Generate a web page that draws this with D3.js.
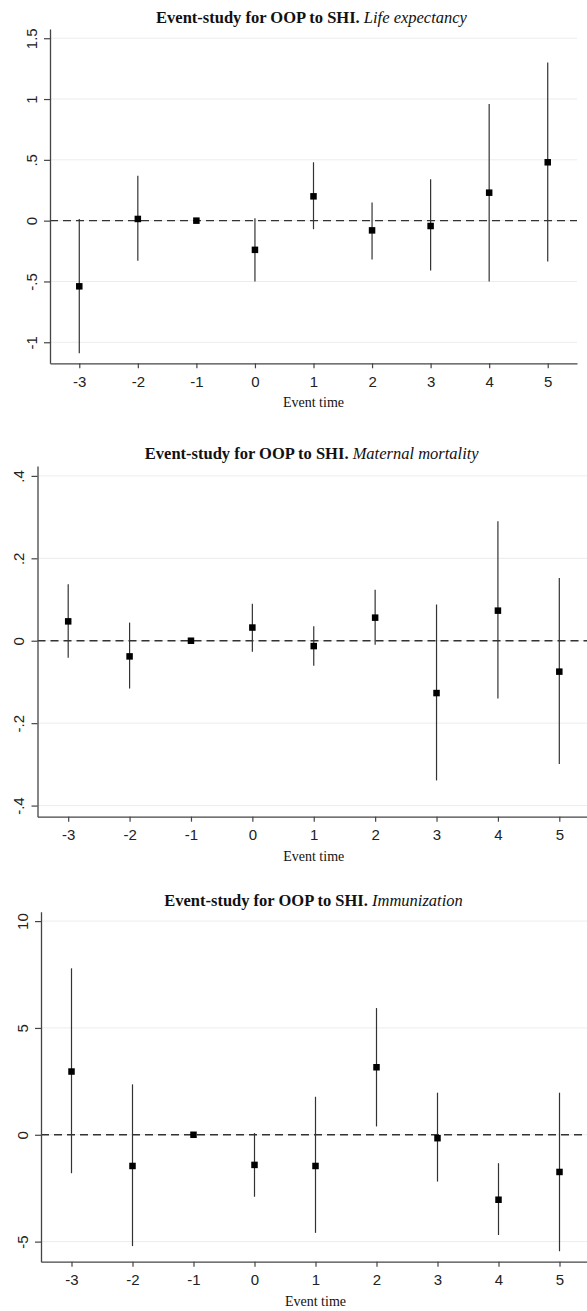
<!DOCTYPE html>
<html>
<head>
<meta charset="utf-8">
<script src="https://cdn.jsdelivr.net/npm/d3@7"></script>
<style>
  body { margin: 0; background: #fff; }
  svg { display: block; }
  .tick text { font-family: "Liberation Sans", Arial, sans-serif; font-size: 15px; fill: #222; }
  .axis path.domain { stroke: #444; stroke-width: 1.3; }
  .axis .tick line { stroke: #444; stroke-width: 1.2; }
  .title { font-family: "Liberation Serif", "Times New Roman", serif; font-size: 16.5px; fill: #111; }
  .xlabel { font-family: "Liberation Serif", "Times New Roman", serif; font-size: 14px; fill: #111; }
</style>
</head>
<body>
<div class="chart"></div>
<script>
// event times on the x axis
const eventTimes = [-3, -2, -1, 0, 1, 2, 3, 4, 5];

// Life expectancy
const lifeCoef = [-0.54, 0.014, 0, -0.24, 0.20, -0.08, -0.044, 0.23, 0.48];
const lifeLow  = [-1.09, -0.33, 0, -0.50, -0.07, -0.32, -0.41, -0.50, -0.335];
const lifeHigh = [0.014, 0.37, 0, 0.02, 0.48, 0.15, 0.34, 0.96, 1.30];
const lifeTicks = [-1, -0.5, 0, 0.5, 1, 1.5];

// Maternal mortality
const matCoef = [0.047, -0.038, 0, 0.032, -0.013, 0.056, -0.127, 0.073, -0.075];
const matLow  = [-0.041, -0.116, 0, -0.027, -0.061, -0.010, -0.339, -0.140, -0.299];
const matHigh = [0.137, 0.044, 0, 0.090, 0.035, 0.124, 0.088, 0.290, 0.152];
const matTicks = [-0.4, -0.2, 0, 0.2, 0.4];

// Immunization
const immCoef = [2.96, -1.46, 0, -1.41, -1.46, 3.16, -0.16, -3.04, -1.74];
const immLow  = [-1.80, -5.21, 0, -2.90, -4.59, 0.39, -2.19, -4.69, -5.45];
const immHigh = [7.79, 2.36, 0, 0.08, 1.78, 5.93, 1.97, -1.33, 1.97];
const immTicks = [-5, 0, 5, 10];

const titleLead = "Event-study for OOP to SHI.";
const outcomeNames = ["Life expectancy", "Maternal mortality", "Immunization"];

// Stata style numbers: .5, -.5
function stataFmt(d) {
  let s = String(+d.toFixed(2));
  return s.replace(/^0\./, ".").replace(/^-0\./, "-.");
}

let svg = d3.select(".chart").append("svg")
  .attr("width", 587)
  .attr("height", 1311);

let panels = [
  { name: outcomeNames[0], coef: lifeCoef, low: lifeLow, high: lifeHigh, ticks: lifeTicks,
    left: 50, right: 577, top: 29, bottom: 363.3, ydom: [-1.173, 1.576], titleY: 23 },
  { name: outcomeNames[1], coef: matCoef, low: matLow, high: matHigh, ticks: matTicks,
    left: 37.5, right: 590, top: 466, bottom: 816.7, ydom: [-0.427, 0.424], titleY: 458.5 },
  { name: outcomeNames[2], coef: immCoef, low: immLow, high: immHigh, ticks: immTicks,
    left: 41, right: 590, top: 911.7, bottom: 1261.7, ydom: [-5.94, 10.44], titleY: 905.5 }
];

panels.forEach(function (p) {
  let g = svg.append("g");
  let x = d3.scaleLinear().domain([-3.5, 5.5]).range([p.left, p.right]);
  let y = d3.scaleLinear().domain(p.ydom).range([p.bottom, p.top]);

  // gridlines
  g.append("g").selectAll("line.grid")
    .data(p.ticks)
    .enter().append("line")
    .attr("class", "grid")
    .attr("x1", p.left).attr("x2", p.right)
    .attr("y1", d => y(d)).attr("y2", d => y(d))
    .attr("stroke", "#ececec")
    .attr("stroke-width", 1);

  // zero line
  g.append("line")
    .attr("x1", p.left).attr("x2", p.right)
    .attr("y1", y(0)).attr("y2", y(0))
    .attr("stroke", "#333")
    .attr("stroke-width", 1.4)
    .attr("stroke-dasharray", "8,5");

  // confidence intervals
  g.append("g").selectAll("line.ci")
    .data(eventTimes)
    .enter().append("line")
    .attr("class", "ci")
    .attr("x1", d => x(d)).attr("x2", d => x(d))
    .attr("y1", (d, i) => y(p.low[i]))
    .attr("y2", (d, i) => y(p.high[i]))
    .attr("stroke", "#333")
    .attr("stroke-width", 1.2);

  // point estimates
  let s = 6.5;
  g.append("g").selectAll("rect.pt")
    .data(eventTimes)
    .enter().append("rect")
    .attr("class", "pt")
    .attr("x", d => x(d) - s / 2)
    .attr("y", (d, i) => y(p.coef[i]) - s / 2)
    .attr("width", s).attr("height", s)
    .attr("fill", "#000");

  // axes
  let xAxis = d3.axisBottom(x).tickValues(eventTimes).tickFormat(d => String(d))
    .tickSizeInner(5).tickSizeOuter(0).tickPadding(8);
  g.append("g")
    .attr("class", "axis x")
    .attr("transform", `translate(0, ${p.bottom})`)
    .call(xAxis);

  let yAxis = d3.axisLeft(y).tickValues(p.ticks).tickFormat(stataFmt).tickSizeInner(6).tickSizeOuter(0);
  let ya = g.append("g")
    .attr("class", "axis y")
    .attr("transform", `translate(${p.left}, 0)`)
    .call(yAxis);
  ya.selectAll(".tick text")
    .attr("x", null).attr("dy", null)
    .attr("text-anchor", "middle")
    .attr("transform", "translate(-13.5,0) rotate(-90)");

  // x label
  g.append("text")
    .attr("class", "xlabel")
    .attr("x", (p.left + p.right) / 2)
    .attr("y", p.bottom + 44)
    .attr("text-anchor", "middle")
    .text("Event time");

  // title
  let t = g.append("text")
    .attr("class", "title")
    .attr("x", (p.left + p.right) / 2 - 2)
    .attr("y", p.titleY)
    .attr("text-anchor", "middle");
  t.append("tspan").attr("font-weight", "bold").text(titleLead + " ");
  t.append("tspan").attr("font-style", "italic").text(p.name);
});
</script>
</body>
</html>
